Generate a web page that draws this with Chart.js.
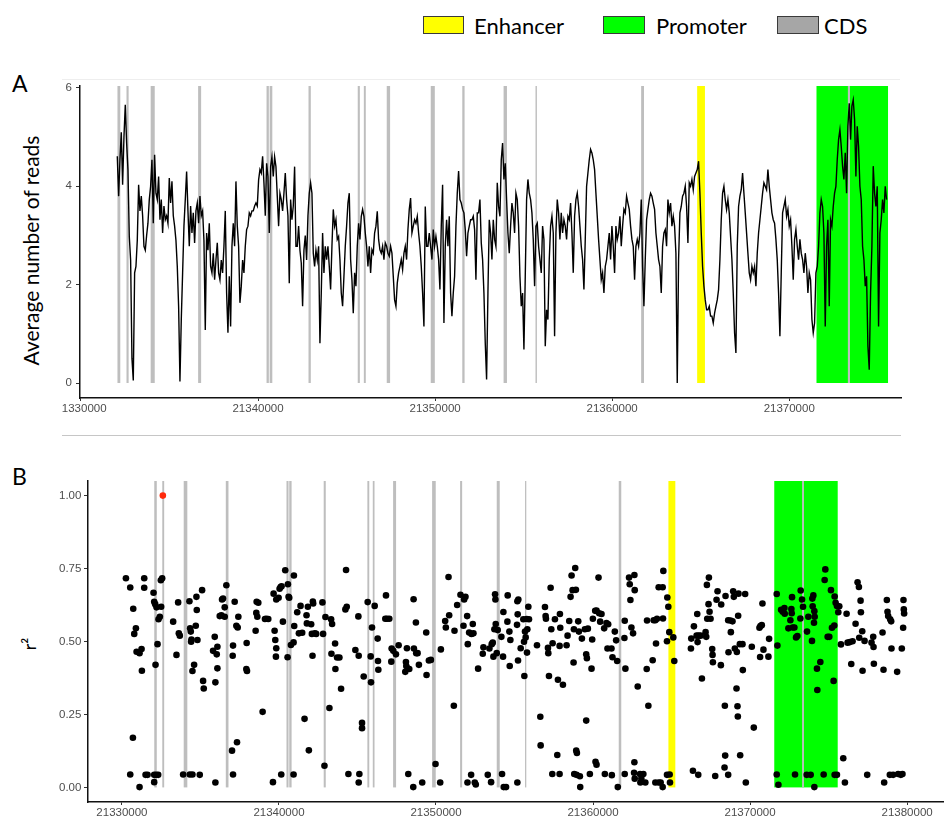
<!DOCTYPE html>
<html>
<head>
<meta charset="utf-8">
<script src="https://cdn.jsdelivr.net/npm/chart.js@4.4.1/dist/chart.umd.min.js"></script>
<style>
  html, body { margin: 0; padding: 0; background: #fff; }
  body { position: relative; width: 947px; height: 820px; overflow: hidden; font-family: Lato, "Open Sans", sans-serif; color: #000; }
  .abs { position: absolute; }
  .key { position: absolute; top: 16px; height: 16px; border: 1px solid #3a3a3a; }
  .keytxt { position: absolute; top: 14.5px; font-size: 22px; line-height: 22px; white-space: nowrap; }
  .panel { position: absolute; font-size: 23px; line-height: 23px; }
  .ytitle { position: absolute; text-align: center; white-space: nowrap; transform: rotate(-90deg); }
  .rule { position: absolute; height: 1px; }
</style>
</head>
<body>
  <!-- legend -->
  <div class="key" style="left:423px; width:39px; background:#ffff00;"></div>
  <div class="keytxt" style="left:474px;">Enhancer</div>
  <div class="key" style="left:603px; width:40px; background:#00ff00;"></div>
  <div class="keytxt" style="left:656px;">Promoter</div>
  <div class="key" style="left:777px; width:40px; background:#a6a6a6;"></div>
  <div class="keytxt" style="left:824px;">CDS</div>

  <div class="panel" style="left:12px; top:71.5px;">A</div>
  <div class="panel" style="left:12px; top:465px;">B</div>

  <div class="ytitle" style="left:-120px; top:239.5px; width:300px; height:21px; font-size:21px; line-height:21px;">Average number of reads</div>
  <div class="ytitle" style="left:9px; top:635px; width:40px; height:18px; font-size:18px; line-height:18px;">r²</div>

  <div class="rule" style="left:62px; top:79px; width:838px; background:#eeeeee;"></div>
  <div class="rule" style="left:62px; top:435px; width:839px; background:#c6c6c6;"></div>

  <canvas id="chartA" class="abs" width="860" height="350" style="left:62px; top:76px;"></canvas>
  <canvas id="chartB" class="abs" width="907" height="350" style="left:40px; top:470px;"></canvas>

<script>
// Annotated genomic features (bp)
const enhancerStart = [21364800];
const enhancerEnd   = [21365240];
const promoterStart = [21371540];
const promoterEnd   = [21375580];
const cdsStart = [21332060, 21332570, 21333935, 21336615, 21340480, 21340655, 21342850, 21345630,
                  21345975, 21347268, 21349753, 21351535, 21353868, 21355670, 21361637, 21373312];
const cdsEnd   = [21332220, 21332690, 21334165, 21336785, 21340610, 21340805, 21342980, 21345750,
                  21346085, 21347458, 21349983, 21351665, 21354058, 21355750, 21361797, 21373432];

// Panel A: average read depth in consecutive bins
const readStart = 21332050;
const readStep = 75.3;
const readAvg = [
  4.61, 3.80, 4.54, 5.10, 4.03, 5.00, 5.66, 4.88, 4.34, 2.98,
  2.50, 0.50, 0.05, 2.24, 2.37, 2.90, 4.03, 3.50, 3.80, 3.40,
  2.78, 2.70, 3.00, 3.25, 3.73, 4.00, 4.54, 3.25, 4.64, 3.86,
  3.73, 4.20, 3.32, 3.73, 3.05, 3.60, 3.32, 3.40, 3.25, 4.17,
  3.66, 4.10, 3.40, 3.19, 2.90, 2.37, 1.56, 0.03, 1.29, 2.24,
  3.19, 3.73, 4.30, 3.50, 2.78, 3.60, 3.05, 3.46, 2.85, 3.50,
  3.66, 3.25, 3.80, 3.40, 3.50, 2.90, 1.08, 3.05, 2.70, 3.25,
  2.37, 2.24, 2.64, 2.10, 2.50, 2.85, 2.24, 2.10, 2.50, 2.24,
  2.78, 3.50, 1.83, 1.02, 2.17, 1.15, 2.78, 3.25, 2.78, 4.10,
  3.19, 2.78, 1.63, 1.97, 2.50, 2.24, 2.78, 3.12, 3.19, 3.46,
  3.40, 3.50, 3.50, 3.60, 3.66, 3.60, 4.13, 4.34, 4.27, 4.61,
  4.07, 3.40, 4.47, 4.20, 3.05, 4.40, 4.60, 4.20, 4.60, 4.40,
  3.80, 3.19, 3.86, 3.73, 3.50, 3.86, 4.27, 3.73, 3.40, 2.03,
  3.73, 3.32, 3.60, 4.40, 2.78, 2.78, 3.19, 2.70, 2.44, 1.56,
  2.70, 3.00, 2.50, 3.40, 3.86, 4.07, 3.86, 2.64, 2.37, 2.70,
  2.50, 2.78,
  0.81, 1.83, 3.05, 2.24, 2.78, 2.51, 2.78, 2.37, 1.90, 2.78,
  3.53, 3.19, 3.32, 2.92, 2.98, 2.51, 1.83, 1.56, 2.17, 2.78,
  3.19, 3.66, 3.86, 2.51, 2.10, 1.42, 2.24, 1.97, 2.78, 3.25,
  2.92, 3.39, 3.53, 3.39, 3.05, 2.78, 2.37, 2.78, 2.24, 2.71,
  2.64, 3.05, 3.19, 3.49, 2.92, 2.71, 2.64, 2.78, 2.51, 2.85,
  2.78, 2.64, 2.58, 2.78, 2.64, 2.17, 1.69, 1.56, 2.03, 2.24,
  2.37, 2.51, 2.31, 2.64, 2.78, 2.51, 3.12, 3.53, 3.76, 3.05,
  3.19, 3.32, 3.25, 3.39, 3.05, 2.78, 2.37, 1.83, 1.15, 3.59,
  2.78, 2.78, 3.05, 2.78, 2.51, 3.12, 2.78, 2.98, 2.78, 2.51,
  1.90, 3.19, 4.03, 1.22, 2.78, 3.32, 2.78, 3.39, 1.83, 1.36,
  1.83, 2.17, 3.19, 3.86, 4.31, 3.73, 3.66, 3.53, 3.46, 3.12,
  2.58, 3.05, 3.19, 3.32, 3.32, 3.39, 3.12, 2.10, 3.46, 3.46,
  3.73, 2.85, 2.51, 1.83, 0.81, 0.07, 1.83, 3.32, 3.05, 2.51,
  3.32, 2.92, 2.78, 4.07, 3.59, 3.39, 4.54, 4.88, 4.14, 4.47,
  3.73, 3.05, 2.64, 3.19, 3.66, 3.46, 3.05, 3.86, 3.73, 3.19,
  2.17, 1.56, 1.83, 0.68, 2.17, 3.73, 4.14, 3.86, 3.73, 3.46,
  2.92, 1.97, 3.19, 3.25, 2.78, 2.51, 2.24, 3.19, 2.92, 0.75,
  1.49, 1.29, 2.51, 3.19, 3.39, 3.05, 0.95, 3.05, 3.73, 3.46,
  2.92, 3.46, 3.05, 3.32, 3.19, 2.92, 3.39, 3.32, 3.66, 3.05,
  2.24, 3.39, 3.73, 3.86, 3.59, 3.19, 2.78, 2.51, 1.90, 2.92,
  4.00, 4.27, 4.54, 4.75, 4.68, 4.54, 4.34, 3.86, 3.39, 2.92,
  2.51, 2.10, 2.24, 1.83, 2.37, 2.51, 2.78, 3.05, 2.51, 3.19,
  2.78, 2.24, 3.19, 2.92, 3.05,
  3.39, 2.78, 3.19, 3.53, 3.46, 3.80, 3.66, 3.53, 3.19, 2.92,
  2.78, 2.10, 2.78, 2.92, 2.78, 3.05, 3.73, 2.37, 1.56, 2.51,
  3.32, 3.53, 3.73, 3.86, 3.80, 3.66, 3.53, 3.05, 2.78, 2.51,
  2.37, 1.83, 2.78, 3.05, 3.12, 2.78, 3.73, 3.46, 3.66, 3.19,
  3.39, 3.19, 2.64, 0.00, 2.51, 3.46, 3.59, 3.80, 3.86, 4.00,
  3.59, 2.85, 4.07, 4.00, 4.14, 3.93, 4.20, 4.27, 4.34, 4.51,
  3.86, 3.05, 2.37, 1.97, 1.69, 1.49, 1.49, 1.56, 1.36, 1.36,
  1.22, 1.42, 1.56, 1.69, 1.90, 2.51, 3.32, 3.86, 4.00, 3.73,
  3.53, 3.73, 3.46, 2.98, 2.51, 1.83, 1.02, 0.61, 2.78, 3.59,
  3.80, 3.93, 4.27, 3.86, 3.46, 3.05, 2.64, 2.24, 2.10, 2.37,
  2.24, 2.37, 1.97, 2.64, 3.05, 3.32, 3.59, 3.86, 4.07, 4.00,
  3.93, 4.34, 4.00, 3.73, 3.46, 3.32, 3.25, 2.92, 2.51, 1.83,
  0.95, 2.24, 3.46, 3.59, 3.73, 3.39, 3.53, 3.19, 3.32, 2.78,
  2.10, 2.92, 3.12, 2.78, 2.51, 2.92, 2.64, 2.51, 2.24, 2.64,
  2.37, 1.83, 2.24, 2.10, 1.29, 1.02, 1.22, 2.24, 2.37, 2.78,
  3.46, 3.73, 3.59, 3.05, 1.15, 2.78, 3.32, 1.56, 3.32, 3.19,
  3.59, 3.86, 4.00, 4.54, 4.95, 5.15, 4.81, 4.41, 4.14, 4.68,
  3.86, 5.22, 5.69, 4.95, 5.63, 5.76, 5.36, 4.20, 5.22, 4.81,
  4.00, 3.73, 2.78, 2.51, 1.97, 2.17, 0.75, 0.27, 1.83, 2.78,
  4.41, 3.86, 3.59, 4.00, 1.15, 3.05, 3.32, 3.73, 3.46, 4.00,
  3.73
];

// Panel B: linkage (r²) of each variant with the lead variant
const leadPos = [21332606];
const leadR2  = [1.00];
const snpPos = [
  21330255, 21330530, 21330721, 21330785, 21330890, 21330933, 21331123, 21331251, 21331420, 21331420,
  21331272, 21330700, 21330530, 21331123, 21331505, 21331632, 21332013, 21332055, 21332119, 21332204,
  21332140, 21332267, 21332331, 21332415, 21332500, 21332479, 21332564, 21332055, 21332182, 21332310,
  21332055, 21333263, 21333474, 21333580, 21333623, 21333686, 21333898, 21334322, 21334491, 21334957,
  21334300, 21334343, 21334385, 21334406, 21334428, 21334491, 21334597, 21334703, 21334745, 21334766,
  21334809, 21335105, 21335169, 21335211, 21335804, 21335910, 21335952, 21336080, 21336080, 21336037,
  21335952, 21336228, 21336334, 21336376, 21336440, 21336546, 21336651, 21336546, 21337075, 21337054,
  21337181, 21337287, 21337372, 21337414, 21337011, 21337329, 21337075, 21337943, 21337922, 21337965,
  21338515, 21338558, 21338579, 21338621, 21338685, 21339108, 21339193, 21339320, 21338960, 21339659,
  21339723, 21339765, 21339828, 21339807, 21339828, 21339977, 21340040, 21340104, 21340167, 21340252,
  21340400, 21340570, 21340612, 21340654, 21340549, 21340760, 21340951, 21340930, 21340972, 21341163,
  21341269, 21341375, 21341480, 21341629, 21341756, 21341841, 21341777, 21341904, 21342052, 21342095,
  21342158, 21342179, 21342285, 21342137, 21342370, 21339617, 21340146, 21340930,
  21342769, 21342812, 21342960, 21343214, 21343320, 21343384, 21342897, 21343341, 21343574, 21343595,
  21343701, 21343850, 21343956, 21344273, 21344231, 21344316, 21344421, 21344866, 21345057, 21345078,
  21345120, 21345078, 21345290, 21345290, 21345396, 21345650, 21345841, 21345862, 21345925, 21346095,
  21346285, 21346306, 21346328, 21346815, 21346772, 21346878, 21347027, 21347175, 21347281, 21347154,
  21347450, 21347620, 21348149, 21348086, 21348107, 21348043, 21348213, 21348234, 21348297, 21348552,
  21348573, 21348594, 21348721, 21348742, 21348827, 21348912, 21349123, 21349378, 21349399, 21349547,
  21349674, 21349971, 21350267, 21350310, 21350585, 21350627, 21350797, 21350839, 21351136, 21351178,
  21351347, 21351559, 21351792, 21351877, 21351750, 21351983, 21352025, 21352004, 21352110, 21352258,
  21352237, 21352343, 21352385, 21352470, 21352533, 21352682, 21352978, 21353021, 21353296, 21353402,
  21353508, 21353550, 21353614, 21353656, 21353762, 21353783, 21353719, 21353804, 21353868, 21353931,
  21354164, 21354207, 21354270, 21354291, 21354313, 21354461, 21354546, 21354567, 21354673, 21354736,
  21354694, 21355202, 21355181, 21355244, 21355160, 21355223, 21355181, 21355393, 21355562, 21355605,
  21355626, 21355668, 21355710, 21355774, 21355795, 21355816, 21355880, 21355922, 21356431, 21356642,
  21356664, 21356939, 21356981, 21357002, 21357151, 21357129, 21357193, 21357299, 21357341, 21357405,
  21357426, 21357574, 21357765, 21357871, 21357723, 21357892, 21357871, 21357913, 21358083, 21358316,
  21358379, 21358485, 21358570, 21358633, 21358697, 21358760, 21358782, 21358866, 21358909, 21358803,
  21358951, 21358930, 21358972, 21359057, 21359099, 21359163, 21359184, 21359290, 21359480, 21359565,
  21359608, 21359565, 21359671, 21359798, 21359904, 21359946, 21359989, 21360137, 21360222, 21360349,
  21360391, 21360539, 21360454, 21360709, 21360751, 21360857, 21360963, 21360921, 21361175, 21361196,
  21361238, 21361387, 21361535, 21361577, 21361471, 21360158, 21360222,
  21362019, 21361998, 21362061, 21362294, 21362337, 21362379, 21362443, 21362549, 21362633, 21362654,
  21362845, 21362633, 21362612, 21362654, 21362019, 21362993, 21363078, 21363015, 21363205, 21363332,
  21363438, 21363523, 21363417, 21363798, 21363862, 21363968, 21364074, 21364179, 21364434, 21364455,
  21364476, 21364010, 21363968, 21364179, 21364434, 21364306, 21364709, 21364730, 21364794, 21364857,
  21365111, 21365175, 21364709, 21364878, 21364900, 21366234, 21366255, 21366424, 21366636, 21366594,
  21366657, 21366721, 21366848, 21367166, 21367208, 21367251, 21367356, 21367378, 21367420, 21367272,
  21367483, 21367589, 21367611, 21367632, 21366933, 21366361, 21366700, 21367780, 21367865, 21367928,
  21368140, 21368161, 21368394, 21368415, 21368373, 21368437, 21368606, 21368627, 21368754, 21368775,
  21368881, 21368924, 21368966, 21369030, 21369136, 21369157, 21369199, 21369220, 21369241, 21369263,
  21369347, 21369369, 21369517, 21369538, 21369686, 21368606, 21369729, 21370110, 21370237, 21370597,
  21370660, 21370745, 21370788, 21370851, 21370639, 21371169, 21371211, 21371698, 21371741, 21371698,
  21371804, 21371974, 21372080, 21372185, 21372207, 21372440, 21372567, 21372630, 21372651, 21372673,
  21372715, 21372821, 21372927, 21373011, 21372863, 21373223, 21373202, 21373308, 21373372, 21373626,
  21373710, 21373943, 21373965, 21374028, 21373986, 21374092, 21374113, 21374070, 21374261, 21374282,
  21373605, 21373859, 21374092, 21374473, 21374685, 21374748, 21374791, 21374939, 21375045, 21375150,
  21375214, 21375362, 21375320, 21375384, 21375447, 21375532, 21375617, 21375680, 21375384, 21375532,
  21375786, 21375934, 21376040, 21376146, 21376210, 21376358, 21376443, 21376527, 21376718, 21376845,
  21376930, 21376951, 21377036, 21377057, 21377142, 21377163, 21377290, 21377459, 21377735, 21377862,
  21377841, 21377883, 21378434, 21378497, 21378539, 21378709, 21378751, 21378794, 21378921, 21378984,
  21379005, 21378900, 21379365, 21379111, 21379429, 21379598, 21379704, 21379768, 21379789, 21379810,
  21379747, 21379662
];
const snpR2 = [
  0.717, 0.685, 0.612, 0.526, 0.545, 0.465, 0.460, 0.474, 0.717, 0.684,
  0.400, 0.170, 0.044, 0.001, 0.043, 0.043, 0.667, 0.636, 0.628, 0.617,
  0.420, 0.491, 0.576, 0.585, 0.619, 0.710, 0.717, 0.043, 0.043, 0.043,
  0.018, 0.568, 0.454, 0.634, 0.528, 0.520, 0.044, 0.044, 0.044, 0.043,
  0.638, 0.545, 0.534, 0.499, 0.507, 0.399, 0.420, 0.554, 0.653, 0.608,
  0.505, 0.676, 0.365, 0.339, 0.468, 0.516, 0.360, 0.482, 0.408, 0.456,
  0.017, 0.587, 0.590, 0.644, 0.647, 0.617, 0.693, 0.585, 0.486, 0.451,
  0.636, 0.554, 0.548, 0.585, 0.126, 0.155, 0.044, 0.495, 0.406, 0.399,
  0.537, 0.598, 0.636, 0.585, 0.633, 0.577, 0.578, 0.577, 0.259, 0.664,
  0.537, 0.505, 0.477, 0.448, 0.644, 0.650, 0.681, 0.687, 0.689, 0.568,
  0.744, 0.696, 0.653, 0.650, 0.446, 0.488, 0.726, 0.497, 0.553, 0.600,
  0.528, 0.622, 0.530, 0.235, 0.590, 0.619, 0.562, 0.127, 0.559, 0.526,
  0.637, 0.630, 0.528, 0.451, 0.526, 0.018, 0.044, 0.044,
  0.634, 0.526, 0.584, 0.272, 0.576, 0.560, 0.074, 0.458, 0.493, 0.406,
  0.445, 0.445, 0.338, 0.745, 0.610, 0.619, 0.046, 0.471, 0.586, 0.451,
  0.046, 0.017, 0.221, 0.203, 0.380, 0.635, 0.449, 0.360, 0.548, 0.622,
  0.510, 0.433, 0.403, 0.658, 0.578, 0.578, 0.578, 0.476, 0.468, 0.431,
  0.456, 0.487, 0.477, 0.430, 0.416, 0.396, 0.407, 0.046, 0.406, 0.001,
  0.645, 0.476, 0.565, 0.460, 0.460, 0.420, 0.017, 0.531, 0.385, 0.435,
  0.437, 0.080, 0.017, 0.473, 0.570, 0.548, 0.721, 0.590, 0.280, 0.537,
  0.625, 0.660, 0.644, 0.653, 0.554, 0.587, 0.491, 0.017, 0.531, 0.526,
  0.043, 0.560, 0.528, 0.017, 0.010, 0.407, 0.458, 0.480, 0.043, 0.476,
  0.018, 0.491, 0.496, 0.448, 0.662, 0.644, 0.542, 0.560, 0.460, 0.539,
  0.516, 0.046, 0.448, 0.601, 0.001, 0.001, 0.568, 0.658, 0.534, 0.505,
  0.416, 0.593, 0.638, 0.644, 0.557, 0.435, 0.017, 0.477, 0.576, 0.499,
  0.382, 0.534, 0.514, 0.577, 0.462, 0.542, 0.619, 0.576, 0.487, 0.242,
  0.144, 0.618, 0.587, 0.578, 0.460, 0.478, 0.382, 0.684, 0.542, 0.046,
  0.494, 0.576, 0.369, 0.046, 0.111, 0.594, 0.485, 0.547, 0.352, 0.487,
  0.520, 0.570, 0.653, 0.726, 0.676, 0.428, 0.542, 0.752, 0.677, 0.046,
  0.043, 0.126, 0.118, 0.569, 0.534, 0.038, 0.001, 0.510, 0.542, 0.456,
  0.443, 0.229, 0.544, 0.046, 0.407, 0.507, 0.578, 0.605, 0.606, 0.719,
  0.597, 0.594, 0.568, 0.545, 0.046, 0.563, 0.559, 0.476, 0.476, 0.042,
  0.446, 0.534, 0.433, 0.001, 0.504, 0.088, 0.078,
  0.571, 0.512, 0.407, 0.719, 0.696, 0.642, 0.548, 0.528, 0.728, 0.676,
  0.346, 0.086, 0.050, 0.030, 0.046, 0.046, 0.030, 0.017, 0.046, 0.017,
  0.572, 0.280, 0.406, 0.436, 0.573, 0.573, 0.578, 0.686, 0.686, 0.579,
  0.742, 0.493, 0.017, 0.017, 0.001, 0.017, 0.501, 0.651, 0.619, 0.532,
  0.514, 0.433, 0.043, 0.044, 0.017, 0.476, 0.510, 0.552, 0.594, 0.520,
  0.498, 0.520, 0.520, 0.532, 0.516, 0.694, 0.628, 0.719, 0.602, 0.578,
  0.578, 0.474, 0.454, 0.429, 0.373, 0.057, 0.043, 0.039, 0.643, 0.672,
  0.419, 0.627, 0.280, 0.109, 0.068, 0.656, 0.573, 0.463, 0.572, 0.532,
  0.569, 0.672, 0.653, 0.476, 0.339, 0.464, 0.278, 0.243, 0.588, 0.664,
  0.491, 0.110, 0.491, 0.402, 0.663, 0.043, 0.017, 0.482, 0.205, 0.547,
  0.553, 0.556, 0.630, 0.472, 0.447, 0.448, 0.509, 0.663, 0.486, 0.044,
  0.009, 0.609, 0.602, 0.615, 0.595, 0.545, 0.573, 0.611, 0.597, 0.652,
  0.548, 0.548, 0.514, 0.519, 0.044, 0.675, 0.579, 0.644, 0.619, 0.534,
  0.585, 0.502, 0.647, 0.658, 0.621, 0.604, 0.585, 0.564, 0.407, 0.334,
  0.043, 0.043, 0.001, 0.430, 0.044, 0.711, 0.747, 0.516, 0.516, 0.676,
  0.547, 0.555, 0.365, 0.654, 0.633, 0.622, 0.600, 0.621, 0.043, 0.043,
  0.490, 0.100, 0.017, 0.595, 0.496, 0.498, 0.423, 0.501, 0.561, 0.703,
  0.687, 0.513, 0.640, 0.600, 0.535, 0.400, 0.502, 0.043, 0.496, 0.481,
  0.516, 0.424, 0.531, 0.403, 0.017, 0.642, 0.602, 0.587, 0.576, 0.569,
  0.476, 0.043, 0.396, 0.043, 0.046, 0.043, 0.046, 0.642, 0.610, 0.596,
  0.547, 0.476
];

// Axis ticks
const ticksAx = [21330000, 21340000, 21350000, 21360000, 21370000];
const ticksAy = [0, 2, 4, 6];
const ticksBx = [21330000, 21340000, 21350000, 21360000, 21370000, 21380000];
const ticksBy = [0, 0.25, 0.5, 0.75, 1];

// Shaded feature bands, painted beneath the data
const featureBands = {
  id: 'featureBands',
  beforeDatasetsDraw(chart) {
    const { ctx, chartArea: area, scales: { x, y } } = chart;
    const base = y.getPixelForValue(0);
    const paint = (starts, ends, color) => {
      ctx.fillStyle = color;
      starts.forEach((s, i) => {
        const x0 = x.getPixelForValue(s);
        const x1 = x.getPixelForValue(ends[i]);
        ctx.fillRect(x0, area.top, Math.max(x1 - x0, 1), base - area.top);
      });
    };
    ctx.save();
    ctx.beginPath();
    ctx.rect(area.left, area.top, area.width, area.height);
    ctx.clip();
    paint(enhancerStart, enhancerEnd, '#ffff00');
    paint(promoterStart, promoterEnd, '#00ff00');
    paint(cdsStart, cdsEnd, '#bebebe');
    ctx.restore();
  }
};

const tickFont = { family: "'Liberation Sans', Arial, sans-serif", size: 11.5 };
const tickColor = '#4d4d4d';

function fixTicks(values) {
  return scale => { scale.ticks = values.map(v => ({ value: v })); };
}
function fitX(h) {
  return s => { s.height = h; s.paddingLeft = 0; s.paddingRight = 0; s.paddingTop = 0; s.paddingBottom = 0; };
}
function fitY(w) {
  return s => { s.width = w; s.paddingLeft = 0; s.paddingRight = 0; s.paddingTop = 0; s.paddingBottom = 0; };
}
function xAxis(min, max, ticks, h) {
  return {
    type: 'linear', min, max,
    afterBuildTicks: fixTicks(ticks),
    afterFit: fitX(h),
    ticks: { color: tickColor, font: tickFont, padding: 1, maxRotation: 0, autoSkip: false, callback: v => String(v) },
    grid: { display: true, drawOnChartArea: false, drawTicks: true, tickLength: 3, color: '#333', lineWidth: 1 },
    border: { display: true, color: '#111', width: 1.5 }
  };
}
function yAxis(min, max, ticks, w, pad, fmt) {
  return {
    type: 'linear', min, max,
    afterBuildTicks: fixTicks(ticks),
    afterFit: fitY(w),
    ticks: { color: tickColor, font: tickFont, padding: pad, autoSkip: false, callback: fmt },
    grid: { display: true, drawOnChartArea: false, drawTicks: true, tickLength: 4, color: '#333', lineWidth: 1 },
    border: { display: true, color: '#111', width: 1.5 }
  };
}

const common = {
  responsive: false,
  animation: false,
  devicePixelRatio: 1,
  events: [],
  plugins: { legend: { display: false }, tooltip: { enabled: false } }
};

new Chart(document.getElementById('chartA'), {
  type: 'line',
  data: {
    datasets: [{
      data: readAvg.map((v, i) => ({ x: readStart + i * readStep, y: v })),
      borderColor: '#000',
      borderWidth: 1.4,
      pointRadius: 0,
      tension: 0,
      fill: false
    }]
  },
  options: Object.assign({}, common, {
    layout: { padding: { left: 0, right: 21, top: 10, bottom: 0 } },
    scales: {
      x: xAxis(21329944, 21376313, ticksAx, 28),
      y: yAxis(-0.305, 6.04, ticksAy, 18, 4, v => String(v))
    }
  }),
  plugins: [featureBands]
});

new Chart(document.getElementById('chartB'), {
  type: 'scatter',
  data: {
    datasets: [
      {
        data: snpPos.map((p, i) => ({ x: p, y: snpR2[i] })),
        backgroundColor: '#000',
        borderWidth: 0,
        pointRadius: 3.3
      },
      {
        data: leadPos.map((p, i) => ({ x: p, y: leadR2[i] })),
        backgroundColor: '#ff2a0c',
        borderWidth: 0,
        pointRadius: 3.3
      }
    ]
  },
  options: Object.assign({}, common, {
    layout: { padding: { left: 0, right: 2, top: 11, bottom: 0 } },
    scales: {
      x: xAxis(21327840, 21382285, ticksBx, 18),
      y: yAxis(-0.05, 1.05, ticksBy, 48, 2.6, v => Number(v).toFixed(2))
    }
  }),
  plugins: [featureBands]
});
</script>
</body>
</html>
